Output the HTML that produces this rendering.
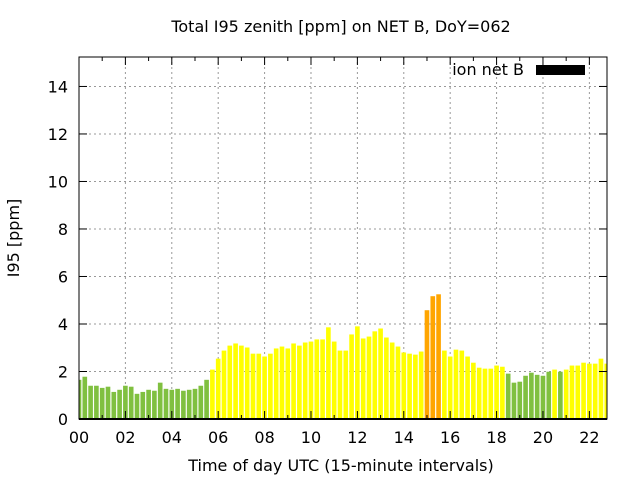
<!DOCTYPE html>
<html><head><meta charset="utf-8"><style>
body{margin:0;background:#fff;}
svg text{font-family:"DejaVu Sans","Liberation Sans",sans-serif;font-size:16px;fill:#000;}
</style></head><body>
<svg id="chart" width="640" height="480" xmlns="http://www.w3.org/2000/svg">
<defs><clipPath id="pc"><rect x="79" y="57" width="528" height="362"/></clipPath></defs>
<text x="341" y="32" text-anchor="middle">Total I95 zenith [ppm] on NET B, DoY=062</text>
<g id="grid"></g>
<g id="bars" clip-path="url(#pc)"></g>
<g id="axes"></g>
<text transform="translate(19,238) rotate(-90)" text-anchor="middle">I95 [ppm]</text>
<text x="341" y="471" text-anchor="middle">Time of day UTC (15-minute intervals)</text>
<g>
<text x="524" y="75" text-anchor="end">ion net B</text>
<rect x="536" y="65" width="49" height="10" fill="#000"/>
</g>
</svg>
<script>
const hours = [0,0.25,0.5,0.75,1,1.25,1.5,1.75,2,2.25,2.5,2.75,3,3.25,3.5,3.75,4,4.25,4.5,4.75,5,5.25,5.5,5.75,6,6.25,6.5,6.75,7,7.25,7.5,7.75,8,8.25,8.5,8.75,9,9.25,9.5,9.75,10,10.25,10.5,10.75,11,11.25,11.5,11.75,12,12.25,12.5,12.75,13,13.25,13.5,13.75,14,14.25,14.5,14.75,15,15.25,15.5,15.75,16,16.25,16.5,16.75,17,17.25,17.5,17.75,18,18.25,18.5,18.75,19,19.25,19.5,19.75,20,20.25,20.5,20.75,21,21.25,21.5,21.75,22,22.25,22.5,22.75];
const values = [1.65,1.78,1.40,1.40,1.31,1.36,1.14,1.23,1.40,1.36,1.06,1.14,1.23,1.19,1.53,1.27,1.23,1.27,1.19,1.23,1.27,1.40,1.65,2.08,2.54,2.88,3.09,3.18,3.09,3.01,2.75,2.75,2.63,2.75,2.97,3.05,2.97,3.18,3.09,3.22,3.26,3.35,3.35,3.86,3.26,2.88,2.88,3.56,3.90,3.39,3.47,3.69,3.81,3.43,3.22,3.05,2.80,2.75,2.71,2.84,4.58,5.17,5.25,2.88,2.63,2.92,2.88,2.63,2.37,2.16,2.12,2.12,2.25,2.20,1.91,1.53,1.57,1.82,1.95,1.86,1.82,1.99,2.08,1.99,2.08,2.25,2.25,2.37,2.33,2.33,2.54,2.33];
const xTicks = ["00","02","04","06","08","10","12","14","16","18","20","22"];
const yTicks = [0,2,4,6,8,10,12,14];
const L=79,R=607,T=57,B=419,XMAX=22.76,YMAX=15.24;
const xs=h=>L+h*(R-L)/XMAX, ys=v=>B-v*(B-T)/YMAX;
const NS="http://www.w3.org/2000/svg";
function mk(tag,attrs,parent){const e=document.createElementNS(NS,tag);for(const k in attrs)e.setAttribute(k,attrs[k]);parent.appendChild(e);return e;}
const grid=document.getElementById('grid'),axes=document.getElementById('axes'),bars=document.getElementById('bars');
yTicks.forEach(v=>{
  const y=ys(v);
  if(v>0){const g=mk('line',{x1:L,x2:R,y1:y,y2:y,stroke:'#999','stroke-dasharray':'2,3'},grid);
  
  }
  mk('line',{x1:L,x2:L+8,y1:y,y2:y,stroke:'#000'},axes);
  mk('line',{x1:R,x2:R-8,y1:y,y2:y,stroke:'#000'},axes);
  const t=mk('text',{x:L-11,y:y+6,'text-anchor':'end'},axes);t.textContent=v;
  
  
});
xTicks.forEach(s=>{
  const x=xs(parseInt(s,10));
  if(x>L+1){const g=mk('line',{x1:x,x2:x,y1:T,y2:B,stroke:'#999','stroke-dasharray':'2,3'},grid);
  
  }
  mk('line',{x1:x,x2:x,y1:B,y2:B-8,stroke:'#000'},axes);
  mk('line',{x1:x,x2:x,y1:T,y2:T+8,stroke:'#000'},axes);
  const t=mk('text',{x:x,y:B+24,'text-anchor':'middle'},axes);t.textContent=s;
  
  
});
for(let h=1;h<23;h+=2){const x=xs(h);mk('line',{x1:x,x2:x,y1:B,y2:B-4,stroke:'#000'},axes);mk('line',{x1:x,x2:x,y1:T,y2:T+4,stroke:'#000'},axes);}
const bw=(R-L)/XMAX*0.25*0.8;
values.forEach((v,i)=>{
  const c=v<2?'#80c040':(v<4?'#ffff00':'#ffa500');
  const r=mk('rect',{x:xs(hours[i])-bw/2,y:ys(v),width:bw,height:B-ys(v),fill:c},bars);
  
  
});
mk('rect',{x:L,y:T,width:R-L,height:B-T,fill:'none',stroke:'#000','stroke-width':1},axes);
mk('line',{x1:L,x2:R,y1:B,y2:B,stroke:'#000','stroke-width':2},axes);
</script>
</body></html>
